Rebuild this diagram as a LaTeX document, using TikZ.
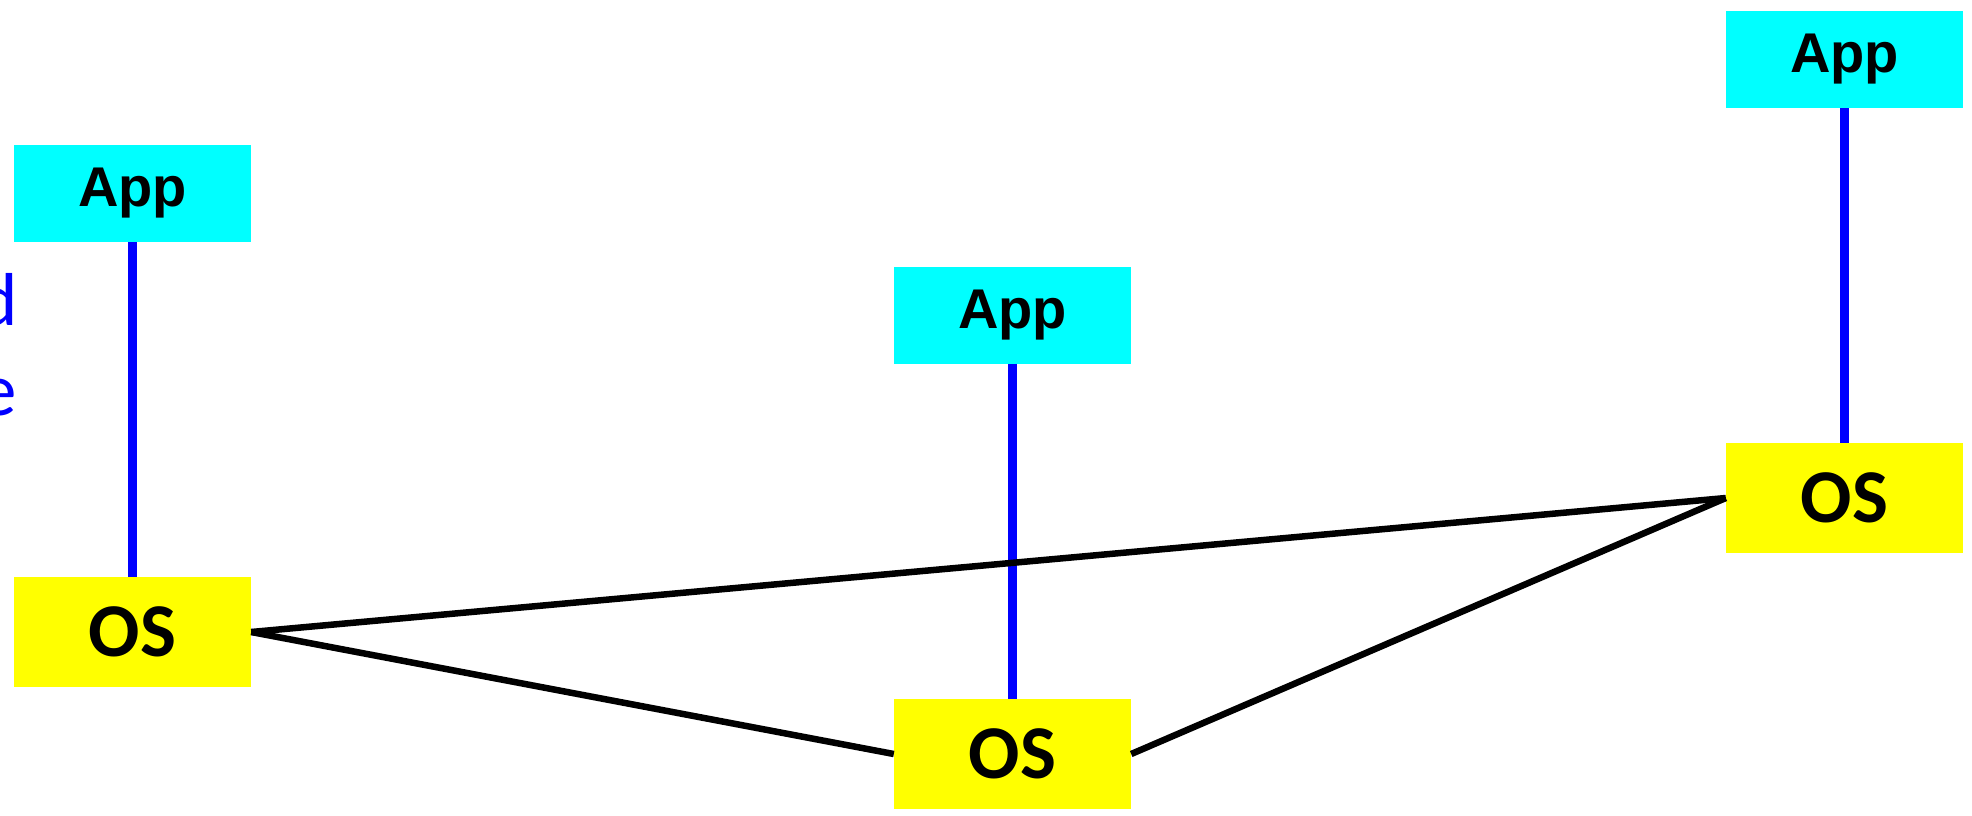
\documentclass[tikz,border=0pt]{standalone}
\usepackage{fontspec}
\setmainfont{Carlito}[BoldFont={Carlito Bold}]
\newfontfamily\appfont{Liberation Sans}[BoldFont={Liberation Sans Bold}]
\begin{document}
\begin{tikzpicture}[x=1pt,y=-1pt,
  appbox/.style={fill={rgb,255:red,0;green,255;blue,255}, minimum width=237pt, minimum height=97pt, inner sep=0pt, font={\appfont\bfseries\fontsize{56}{64}\selectfont}},
  osbox/.style={fill={rgb,255:red,255;green,255;blue,0}, minimum width=237pt, minimum height=110pt, inner sep=0pt, font={\bfseries\fontsize{76}{80}\selectfont}},
  vlink/.style={draw={rgb,255:red,0;green,0;blue,255}, line width=8.5pt},
  hlink/.style={draw=black, line width=6.5pt},
  sidetext/.style={text={rgb,255:red,0;green,0;blue,255}, font={\fontsize{75}{90}\selectfont}, inner sep=0pt, anchor=base east}
]
\useasboundingbox[fill=white] (0,0) rectangle (1972,815);
\node[sidetext] (t1) at (18,325) {d};
\node[sidetext] (t2) at (17,415) {e};
\node[appbox] (app1) at (132.5,193.5) {App};
\node[appbox] (app2) at (1012.5,315) {App};
\node[appbox] (app3) at (1844.5,59.5) {App};
\node[osbox] (os1) at (132.5,632) {OS};
\node[osbox] (os2) at (1012.5,754) {OS};
\node[osbox] (os3) at (1844.5,498) {OS};
\draw[vlink] (app1.south) -- (os1.north);
\draw[vlink] (app2.south) -- (os2.north);
\draw[vlink] (app3.south) -- (os3.north);
\draw[hlink] (os1.east) -- (os3.west);
\draw[hlink] (os1.east) -- (os2.west);
\draw[hlink] (os2.east) -- (os3.west);
\end{tikzpicture}
\end{document}
